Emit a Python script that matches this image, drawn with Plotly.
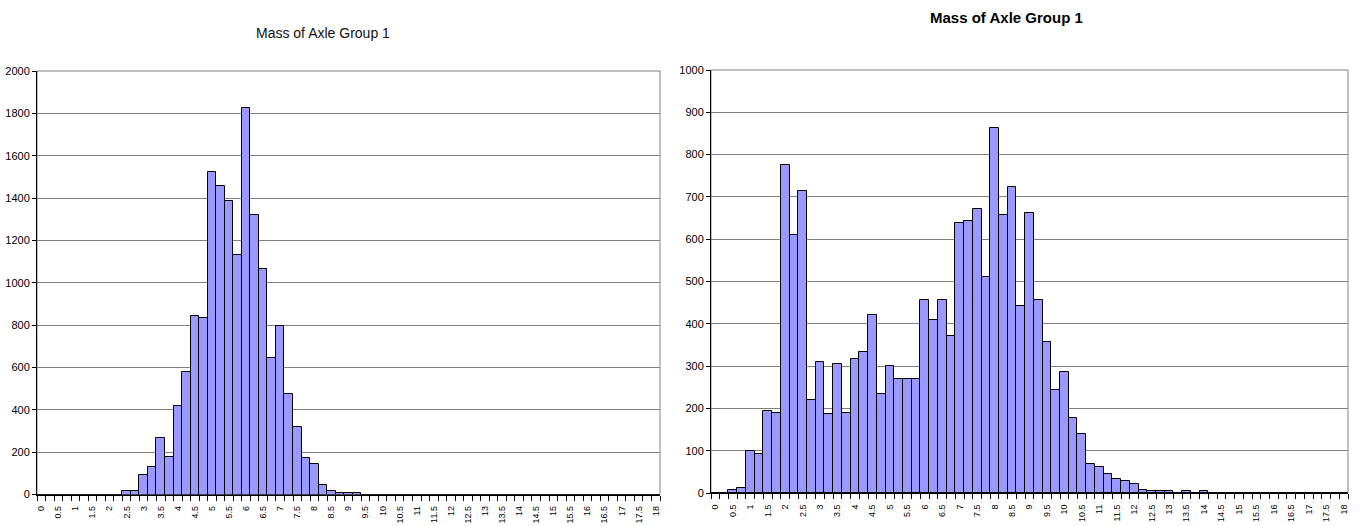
import plotly.graph_objects as go

# Axle-group mass bins (tonnes), shared by both histograms
mass_bins = [
    "0", "0.25", "0.5", "0.75", "1", "1.25", "1.5", "1.75", "2", "2.25",
    "2.5", "2.75", "3", "3.25", "3.5", "3.75", "4", "4.25", "4.5", "4.75",
    "5", "5.25", "5.5", "5.75", "6", "6.25", "6.5", "6.75", "7", "7.25",
    "7.5", "7.75", "8", "8.25", "8.5", "8.75", "9", "9.25", "9.5", "9.75",
    "10", "10.25", "10.5", "10.75", "11", "11.25", "11.5", "11.75", "12", "12.25",
    "12.5", "12.75", "13", "13.25", "13.5", "13.75", "14", "14.25", "14.5", "14.75",
    "15", "15.25", "15.5", "15.75", "16", "16.25", "16.5", "16.75", "17", "17.25",
    "17.5", "17.75", "18",
]

# Counts per bin, first site
counts_site_a = [
    0, 0, 0, 0, 0, 0, 0, 0, 0, 0,
    16, 16, 94, 132, 268, 179, 419, 580, 844, 835,
    1521, 1455, 1388, 1132, 1825, 1321, 1065, 647, 797, 477,
    321, 171, 145, 44, 16, 8, 8, 8, 0, 0,
    0, 0, 0, 0, 0, 0, 0, 0, 0, 0,
    0, 0, 0, 0, 0, 0, 0, 0, 0, 0,
    0, 0, 0, 0, 0, 0, 0, 0, 0, 0,
    0, 0, 0,
]

# Counts per bin, second site
counts_site_b = [
    0, 0, 8, 13, 100, 92, 195, 190, 776, 609,
    714, 220, 310, 186, 305, 190, 316, 334, 420, 235,
    300, 270, 270, 270, 456, 409, 456, 371, 639, 643,
    672, 510, 863, 657, 723, 443, 662, 456, 357, 243,
    287, 178, 140, 68, 61, 46, 32, 28, 22, 8,
    4, 4, 4, 0, 4, 0, 4, 0, 0, 0,
    0, 0, 0, 0, 0, 0, 0, 0, 0, 0,
    0, 0, 0,
]

left_yticks = [0, 200, 400, 600, 800, 1000, 1200, 1400, 1600, 1800, 2000]
right_yticks = [0, 100, 200, 300, 400, 500, 600, 700, 800, 900, 1000]

W, H = 1361, 526
FONT = "Liberation Sans, Arial, sans-serif"
BAR_FILL = "#9999FF"
GRID = "#808080"

pos = list(range(len(mass_bins)))
label_pos = pos[::2]
label_txt = mass_bins[::2]
boundaries = [p - 0.5 for p in pos] + [pos[-1] + 0.5]


def px(x):
    return x / W


def py(y):
    return 1 - y / H


fig = go.Figure()
bar_style = dict(marker=dict(color=BAR_FILL, line=dict(color="black", width=1)),
                 hoverinfo="x+y")
fig.add_trace(go.Bar(x=pos, y=counts_site_a, xaxis="x", yaxis="y", **bar_style))
fig.add_trace(go.Bar(x=pos, y=counts_site_b, xaxis="x2", yaxis="y2", **bar_style))


def xaxis_cfg(domain, anchor):
    return dict(
        domain=domain, anchor=anchor, range=[-0.5, pos[-1] + 0.5],
        showline=True, linecolor="black", linewidth=1,
        showgrid=False, zeroline=False,
        tickmode="array", tickvals=label_pos, ticktext=label_txt,
        tickangle=-90, ticks="", ticklabelstandoff=7,
        tickfont=dict(family=FONT, size=9, color="black"),
        minor=dict(tickmode="array", tickvals=boundaries, ticks="outside",
                   ticklen=5, tickcolor="black", tickwidth=1, showgrid=False),
        automargin=False, fixedrange=True,
    )


def yaxis_cfg(domain, anchor, ticks, font):
    return dict(
        domain=domain, anchor=anchor, range=[0, ticks[-1]],
        tickmode="array", tickvals=ticks, ticktext=[str(t) for t in ticks],
        showline=True, linecolor="black", linewidth=1,
        showgrid=True, gridcolor=GRID, gridwidth=1, zeroline=False,
        ticks="outside", ticklen=4, tickcolor="black",
        tickfont=font, automargin=False, fixedrange=True,
    )


fig.update_layout(
    width=W, height=H,
    margin=dict(l=0, r=0, t=0, b=0),
    paper_bgcolor="white", plot_bgcolor="white",
    showlegend=False, bargap=0,
    xaxis=xaxis_cfg([px(37), px(660)], "y"),
    yaxis=yaxis_cfg([py(494.5), py(71)], "x", left_yticks,
                    dict(family=FONT, size=11, color="black")),
    xaxis2=xaxis_cfg([px(711), px(1348)], "y2"),
    yaxis2=yaxis_cfg([py(493), py(70)], "x2", right_yticks,
                     dict(family="Liberation Sans Narrow, " + FONT, size=11, color="black")),
    shapes=[
        dict(type="rect", xref="paper", yref="paper", layer="below",
             x0=px(37), x1=px(660), y0=py(494.5), y1=py(71),
             line=dict(color=GRID, width=1)),
        dict(type="rect", xref="paper", yref="paper", layer="below",
             x0=px(711), x1=px(1348), y0=py(493), y1=py(70),
             line=dict(color=GRID, width=1)),
    ],
    annotations=[
        dict(text="Mass of Axle Group 1", xref="paper", yref="paper",
             x=px(323), y=py(33), xanchor="center", yanchor="middle",
             showarrow=False, font=dict(family=FONT, size=14, color="#111")),
        dict(text="<b>Mass of Axle Group 1</b>", xref="paper", yref="paper",
             x=px(1006), y=py(18), xanchor="center", yanchor="middle",
             showarrow=False, font=dict(family=FONT, size=15, color="black")),
    ],
)

fig.write_html("out.html")
